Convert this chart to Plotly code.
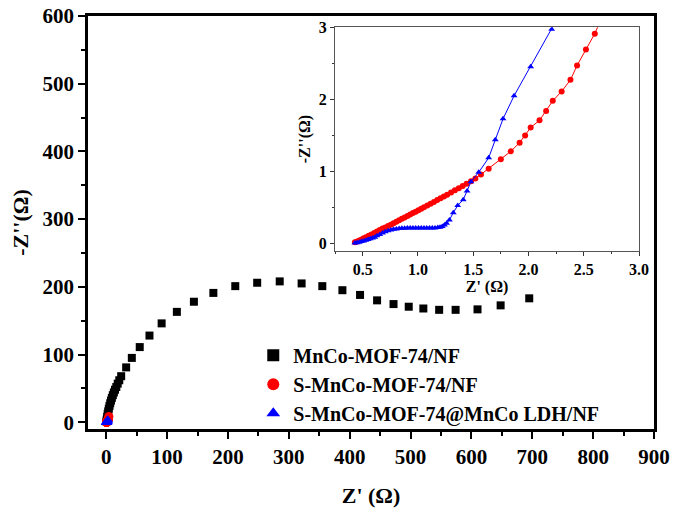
import plotly.graph_objects as go

# ---- data ----
mof_x = [0.3, 0.8, 1.5, 2.3, 3.2, 4.2, 5.3, 6.5, 7.8, 9.2, 10.8, 12.5, 14.4, 16.5, 18.8, 21.4, 24.5,
         32.7, 42, 55, 71, 91, 116, 144, 176, 212, 248, 285, 321, 355, 388, 417, 445, 472, 497,
         521, 547, 574, 610, 648, 695]
mof_y = [1, 4, 8, 12, 16, 20, 24, 28, 32, 36, 40, 44, 48, 52, 57, 62, 68,
         81, 95, 111, 128, 146, 163, 178, 191, 201, 206, 208, 205, 201, 195, 188, 180, 174.5, 170.6,
         168, 166, 166, 166.7, 172.6, 183]

s_x = [0.43, 0.45, 0.47, 0.49, 0.51, 0.53, 0.555, 0.58, 0.605, 0.63, 0.655, 0.68, 0.705, 0.73,
       0.755, 0.78, 0.805, 0.83, 0.855, 0.88, 0.905, 0.93, 0.955, 0.98, 1.005, 1.03, 1.055, 1.085,
       1.115, 1.145, 1.175, 1.205, 1.235, 1.265, 1.3, 1.335, 1.37, 1.405, 1.44, 1.48,
       1.52, 1.57, 1.64, 1.75, 1.84, 1.92, 1.97, 2.02, 2.10, 2.16, 2.22, 2.30, 2.38, 2.44, 2.52,
       2.60, 2.66, 2.75, 2.9, 3.1, 3.4, 3.8, 4.3]
s_y = [0.02, 0.03, 0.045, 0.06, 0.075, 0.09, 0.11, 0.13, 0.15, 0.17, 0.19, 0.21, 0.225, 0.245,
       0.265, 0.285, 0.305, 0.325, 0.345, 0.365, 0.385, 0.405, 0.425, 0.445, 0.465, 0.485, 0.505, 0.53,
       0.555, 0.58, 0.605, 0.63, 0.655, 0.68, 0.71, 0.74, 0.77, 0.80, 0.83, 0.865,
       0.905, 0.96, 1.04, 1.17, 1.28, 1.40, 1.50, 1.61, 1.71, 1.84, 1.98, 2.11, 2.27, 2.47, 2.69,
       2.91, 3.12, 3.4, 3.8, 4.4, 5.3, 6.6, 8.4]

ldh_x = [0.43, 0.45, 0.47, 0.49, 0.51, 0.53, 0.55, 0.57, 0.59, 0.61, 0.63, 0.655, 0.68, 0.705,
         0.73, 0.755, 0.78, 0.805, 0.83, 0.855, 0.88, 0.905, 0.93, 0.955, 0.98, 1.005, 1.03, 1.055,
         1.08, 1.105, 1.13, 1.155, 1.18, 1.2, 1.22, 1.24, 1.26, 1.285, 1.32, 1.36, 1.41, 1.445, 1.48,
         1.55, 1.64, 1.70, 1.77, 1.87, 2.02, 2.21, 2.4]
ldh_y = [0.01, 0.015, 0.02, 0.03, 0.04, 0.05, 0.06, 0.07, 0.08, 0.09, 0.11, 0.13, 0.15, 0.165,
         0.18, 0.19, 0.2, 0.205, 0.21, 0.215, 0.215, 0.22, 0.22, 0.22, 0.22, 0.22, 0.22, 0.22,
         0.22, 0.22, 0.22, 0.22, 0.225, 0.23, 0.24, 0.26, 0.285, 0.33, 0.43, 0.53, 0.61, 0.73, 0.86,
         0.99, 1.19, 1.44, 1.73, 2.05, 2.45, 2.97, 3.5]

names = ["MnCo-MOF-74/NF", "S-MnCo-MOF-74/NF", "S-MnCo-MOF-74@MnCo LDH/NF"]
main_x_ticks = [0, 100, 200, 300, 400, 500, 600, 700, 800, 900]
main_y_ticks = [0, 100, 200, 300, 400, 500, 600]

FONT = "Liberation Serif, Times New Roman, serif"
BLUE = "#0000ff"
RED = "#ff0000"

fig = go.Figure()
fig.add_trace(go.Scatter(x=mof_x, y=mof_y, mode="markers", name=names[0],
                         marker=dict(symbol="square", size=8, color="black")))
fig.add_trace(go.Scatter(x=s_x, y=s_y, mode="markers", name=names[1],
                         marker=dict(symbol="circle", size=9, color=RED)))
fig.add_trace(go.Scatter(x=ldh_x, y=ldh_y, mode="markers", name=names[2],
                         marker=dict(symbol="triangle-up", size=9, color=BLUE)))

# inset
fig.add_trace(go.Scatter(x=s_x, y=s_y, mode="lines+markers", showlegend=False,
                         xaxis="x2", yaxis="y2", line=dict(color=RED, width=1),
                         marker=dict(symbol="circle", size=6, color=RED)))
fig.add_trace(go.Scatter(x=ldh_x, y=ldh_y, mode="lines+markers", showlegend=False,
                         xaxis="x2", yaxis="y2", line=dict(color=BLUE, width=1),
                         marker=dict(symbol="triangle-up", size=6, color=BLUE)))

tickfont = dict(family=FONT, size=21, color="black", weight="bold")
insetfont = dict(family=FONT, size=16, color="black", weight="bold")

fig.update_layout(
    width=673, height=510,
    margin=dict(l=88, r=19, t=16, b=81, autoexpand=False),
    paper_bgcolor="white", plot_bgcolor="white",
    showlegend=True,
    legend=dict(x=0.292, y=0.226, xanchor="left", yanchor="top",
                font=dict(family=FONT, size=20, color="black", weight="bold"),
                bgcolor="rgba(0,0,0,0)", tracegroupgap=0, itemsizing="constant"),
    xaxis=dict(range=[-30, 900], tickvals=main_x_ticks, showgrid=False, zeroline=False,
               automargin=False,
               showline=True, linecolor="black", linewidth=2.5, mirror=True,
               ticks="outside", ticklen=7, tickwidth=2, tickcolor="black",
               minor=dict(dtick=50, tick0=0, ticks="outside", ticklen=4, tickwidth=2, tickcolor="black"),
               tickfont=tickfont,
               title=dict(text="Z' (Ω)", font=dict(family=FONT, size=22, color="black", weight="bold"),
                          standoff=20)),
    yaxis=dict(range=[-10, 600], tickvals=main_y_ticks, showgrid=False, zeroline=False,
               automargin=False,
               showline=True, linecolor="black", linewidth=2.5, mirror=True,
               ticks="outside", ticklen=7, tickwidth=2, tickcolor="black",
               minor=dict(dtick=50, tick0=0, ticks="outside", ticklen=4, tickwidth=2, tickcolor="black"),
               tickfont=tickfont,
               title=dict(text="-Z''(Ω)", font=dict(family=FONT, size=22, color="black", weight="bold"),
                          standoff=8)),
    xaxis2=dict(domain=[0.4364, 0.9735], anchor="y2", range=[0.25, 3.0], automargin=False,
                tick0=0.5, dtick=0.5, tickformat=".1f", showgrid=False, zeroline=False,
                showline=True, linecolor="#555555", linewidth=1, mirror=True,
                ticks="outside", ticklen=4, tickwidth=1, tickcolor="#333333",
                minor=dict(dtick=0.25, tick0=0.25, ticks="outside", ticklen=2, tickwidth=1, tickcolor="#333333"),
                tickfont=insetfont,
                title=dict(text="Z' (Ω)", font=insetfont, standoff=2)),
    yaxis2=dict(domain=[0.431, 0.973], anchor="x2", range=[-0.1, 3.0], automargin=False,
                tick0=0, dtick=1, showgrid=False, zeroline=False,
                showline=True, linecolor="#555555", linewidth=1, mirror=True,
                ticks="outside", ticklen=4, tickwidth=1, tickcolor="#333333",
                minor=dict(dtick=0.5, tick0=0, ticks="outside", ticklen=2, tickwidth=1, tickcolor="#333333"),
                tickfont=insetfont,
                title=dict(text="-Z''(Ω)", font=insetfont, standoff=4)),
)

fig.write_html("out.html")
